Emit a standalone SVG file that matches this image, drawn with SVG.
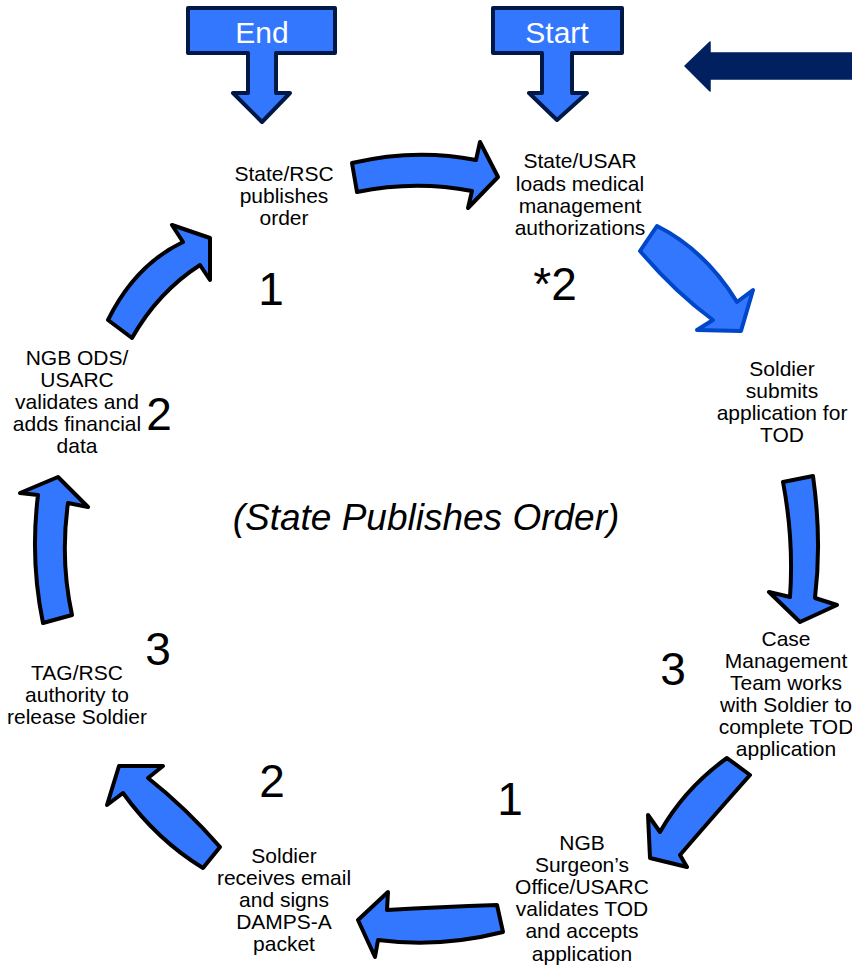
<svg xmlns="http://www.w3.org/2000/svg" width="852" height="965" viewBox="0 0 852 965">
<style>
.lbl{font-family:"Liberation Sans",Arial,sans-serif;font-size:21px;fill:#000;text-anchor:middle}
.num{font-family:"Liberation Sans",Arial,sans-serif;font-size:46px;fill:#000;text-anchor:middle}
.se{font-family:"Liberation Sans",Arial,sans-serif;font-size:30px;fill:#fff;text-anchor:middle}
.arw{fill:#3377ff;stroke:#000;stroke-width:4;stroke-linejoin:round}
.arwb{fill:#3377ff;stroke:#0046c8;stroke-width:4;stroke-linejoin:round}
.box{fill:#3377ff;stroke:#001845;stroke-width:4;stroke-linejoin:round}
</style>
<rect width="852" height="965" fill="#fff"/>
<g id="end">
<polygon class="box" points="188,8 335,8 335,53 276,53 276,93 290,93 262,122 233,93 248,93 248,53 188,53"/>
<text class="se" x="262" y="43">End</text>
</g>
<g id="start">
<polygon class="box" points="493,8 622,8 622,53 572,53 572,93 587,93 557,120 529,93 542,93 542,53 493,53"/>
<text class="se" x="557" y="43">Start</text>
</g>
<g id="navy-arrow">
<polygon points="852,53 710,53 710,42 685,66 710,91 710,79 852,79" fill="#002060" stroke="#002060" stroke-width="1.5" stroke-linejoin="round"/>
</g>
<g id="connectors">
<path class="arw" d="M352,163 Q415,148 476,160 L480,142 L498,177 L468,208 L472,191 Q415,180 357,192 Z"/>
<path class="arwb" d="M640,251 L657,226 Q705,250 737,302 L753,290 L741,331 L697,330 L713,320 Q676,293 640,251 Z"/>
<path class="arw" d="M783,482 L813,476 Q822,540 815,598 L837,605 L800,622 L769,592 L790,597 Q794,540 783,482 Z"/>
<path class="arw" d="M727,758 L750,775 Q711,819 680,855 L687,867 L650,858 L648,815 L660,832 Q685,788 727,758 Z"/>
<path class="arw" d="M497,905 L503,932 Q440,948 378,940 L375,957 L358,920 L388,892 L387,910 Q440,907 497,905 Z"/>
<path class="arw" d="M203,868 L220,847 Q186,808 148,778 L163,766 L119,766 L107,805 L123,793 Q157,840 203,868 Z"/>
<path class="arw" d="M43,623 Q30,560 38,495 L20,493 L58,477 L88,507 L68,503 Q60,560 72,615 Z"/>
<path class="arw" d="M108,320 Q135,265 183,242 L172,225 L210,238 L210,280 L200,265 Q158,292 132,338 Z"/>
</g>
<g id="n-state-rsc">
<text class="lbl" x="284" y="181">State/RSC</text>
<text class="lbl" x="284" y="203">publishes</text>
<text class="lbl" x="284" y="225">order</text>
</g>
<g id="n-state-usar">
<text class="lbl" x="580" y="168">State/USAR</text>
<text class="lbl" x="580" y="191">loads medical</text>
<text class="lbl" x="580" y="213">management</text>
<text class="lbl" x="580" y="235">authorizations</text>
</g>
<g id="n-soldier-submits">
<text class="lbl" x="782" y="376">Soldier</text>
<text class="lbl" x="782" y="398">submits</text>
<text class="lbl" x="782" y="420">application for</text>
<text class="lbl" x="782" y="442">TOD</text>
</g>
<g id="n-case-mgmt">
<text class="lbl" x="786" y="646">Case</text>
<text class="lbl" x="786" y="668">Management</text>
<text class="lbl" x="786" y="690">Team works</text>
<text class="lbl" x="786" y="712">with Soldier to</text>
<text class="lbl" x="786" y="734">complete TOD</text>
<text class="lbl" x="786" y="756">application</text>
</g>
<g id="n-ngb-surgeon">
<text class="lbl" x="582" y="850">NGB</text>
<text class="lbl" x="582" y="872">Surgeon’s</text>
<text class="lbl" x="582" y="894">Office/USARC</text>
<text class="lbl" x="582" y="916">validates TOD</text>
<text class="lbl" x="582" y="938">and accepts</text>
<text class="lbl" x="582" y="961">application</text>
</g>
<g id="n-soldier-receives">
<text class="lbl" x="284" y="863">Soldier</text>
<text class="lbl" x="284" y="885">receives email</text>
<text class="lbl" x="284" y="907">and signs</text>
<text class="lbl" x="284" y="929">DAMPS-A</text>
<text class="lbl" x="284" y="951">packet</text>
</g>
<g id="n-tag-rsc">
<text class="lbl" x="77" y="680">TAG/RSC</text>
<text class="lbl" x="77" y="702">authority to</text>
<text class="lbl" x="77" y="724">release Soldier</text>
</g>
<g id="n-ngb-ods">
<text class="lbl" x="77" y="365">NGB ODS/</text>
<text class="lbl" x="77" y="387">USARC</text>
<text class="lbl" x="77" y="409">validates and</text>
<text class="lbl" x="77" y="431">adds financial</text>
<text class="lbl" x="77" y="453">data</text>
</g>
<g id="numbers">
<text class="num" x="271" y="305">1</text>
<text class="num" x="555" y="300">*2</text>
<text class="num" x="673" y="685">3</text>
<text class="num" x="510" y="815">1</text>
<text class="num" x="272" y="797">2</text>
<text class="num" x="159" y="430">2</text>
<text class="num" x="158" y="665">3</text>
</g>
<g id="center">
<text x="426" y="530" font-family="'Liberation Sans',Arial,sans-serif" font-size="37" font-style="italic" text-anchor="middle" fill="#000">(State Publishes Order)</text>
</g>
</svg>
